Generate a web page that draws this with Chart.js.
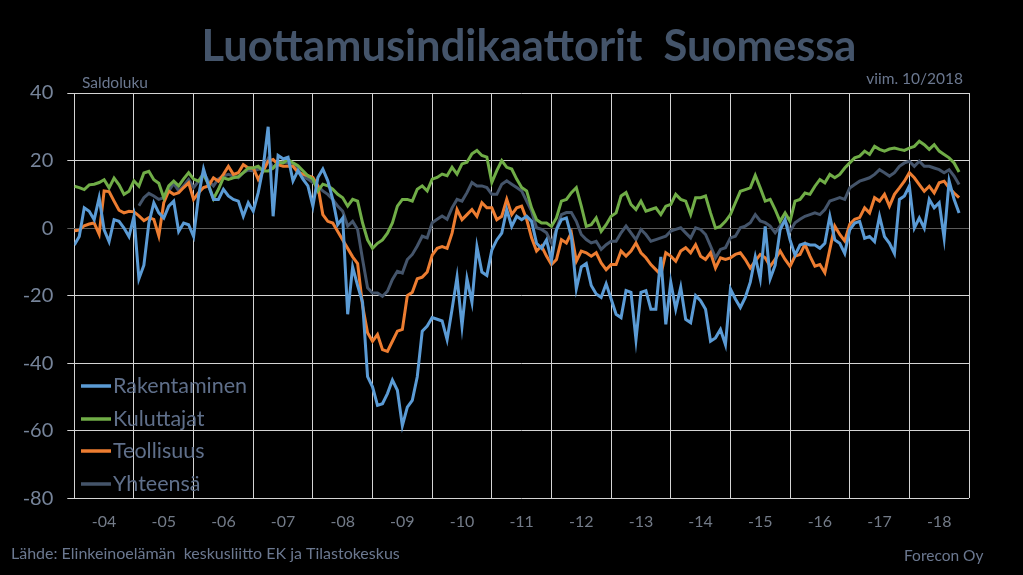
<!DOCTYPE html>
<html>
<head>
<meta charset="utf-8">
<script src="https://cdn.jsdelivr.net/npm/chart.js@4.4.1/dist/chart.umd.min.js"></script>
<style>
html,body{margin:0;padding:0;background:#000;}
#wrap{width:1023px;height:575px;}
</style>
</head>
<body>
<div id="wrap"><canvas id="c" width="1023" height="575"></canvas></div>
<script>
// Tick labels (years) and y-axis settings
const yearLabels = ['-04','-05','-06','-07','-08','-09','-10','-11','-12','-13','-14','-15','-16','-17','-18'];
const yTicks = [40, 20, 0, -20, -40, -60, -80];

const seriesNames = ['Rakentaminen', 'Kuluttajat', 'Teollisuus', 'Yhteensä'];

// Monthly values, Jan 2004 .. Oct 2018
const rakentaminen = [
  -5, -2.5, 6, 5, 2.5, 9, -0.5, -4, 2.5, 2, 0, -2.5,
  3.5, -15, -11, 1.5, 7.5, 4.5, 3, 6.5, 8, -1, 1.5, 1,
  -2.5, 9.5, 17.5, 12.5, 8.5, 8.5, 11.5, 9.5, 8.5, 8, 3.5, 7.5,
  5, 10.5, 18, 30, 3.5, 21.5, 20.5, 21, 14, 17, 14.5, 12.5,
  6.5, 15, 17.5, 14, 8.5, 1, 3, -25.5, -11.5, -17, -22, -44,
  -47, -52.5, -52, -49, -45, -48, -58.5, -53, -51, -44, -30.5, -29,
  -26.5, -27, -27.5, -33, -24, -14.5, -29, -15, -22, -5.5, -13, -14,
  -6.5, -3.5, -1.5, 5.5, 0.5, 3.5, 2.5, 3.5, 2, -4.5, -6, -3.5,
  -9.5, -0.5, 2.5, 3, -2.5, -18, -11.5, -10.5, -17, -19.5, -20.5, -16.5,
  -21, -25.5, -26.5, -18.5, -19, -33, -19, -18.5, -24, -24, -8.5, -28.5,
  -16, -24, -17.5, -27, -28, -20, -21.5, -24, -33.5, -32.5, -30, -34.5,
  -18, -21, -23.5, -20.5, -16, -8.5, -15, 0.5, -15, -11, -0.5, 2.5,
  -3.5, -8, -5, -4.5, -5, -5, -6, -4.5, 3.5, -3.5, -4.5, -7.5,
  -0.5, 1.5, 2, -3, -2.5, -4, 3.5, -2.5, -4.5, -7.5, 8.5, 9.5,
  12.5, 0, 3, 0, 8.5, 6, 7.5, -3, 14, 8.5, 4.5
];
const kuluttajat = [
  12.4, 12, 11.4, 12.8, 13, 13.5, 14.3, 11.9, 14.8, 12.8, 10, 10.9,
  14, 12.4, 16.3, 16.8, 14.3, 13.3, 9, 12.5, 13.9, 12.5, 14.6, 16.4,
  14.5, 13.9, 15.9, 12.9, 8.7, 11.5, 14.9, 14.4, 14.9, 15.2, 16.4, 17.8,
  17.8, 18.3, 16.9, 16.9, 17.8, 19.5, 19.3, 20.3, 19.3, 18.5, 17, 15.5,
  14.5, 11, 13, 12.5, 11.5, 10, 9, 6.5, 8.5, 8, 1.5, -3.5,
  -6, -4.5, -3.5, -1.5, 1.5, 6.5, 8.5, 8.5, 8, 11.5, 12.5, 11,
  14.5, 15, 16, 15.5, 18, 16, 19, 19.5, 22, 23, 21.5, 21,
  13.5, 17, 20, 18, 17.5, 14.5, 12, 11, 6, 2.5, 1.5, 1.5,
  0.5, 3, 8, 8.5, 10.5, 12, 6.5, 0.5, 1, 3, -1, 1,
  3.5, 4.5, 9.5, 10.5, 7, 5.5, 8, 5, 5.5, 6, 4, 6.5,
  7, 10, 8.5, 8, 4, 9, 9, 9.5, 4.5, 0, 0.5, 2,
  4, 7.5, 10.9, 11.4, 11.9, 15.6, 11.9, 8, 8.5, 5.5, 2, 4.5,
  2, 8, 8.5, 10.4, 10, 12.4, 14.4, 13.4, 15.9, 14.9, 15.9, 17.8,
  19.3, 20.8, 21.3, 22.8, 21.8, 24.2, 23.3, 22.8, 23.4, 23.7, 23.3, 23,
  23.7, 24.2, 25.7, 24.7, 23.3, 24.7, 22.8, 21.8, 20.8, 19.3, 16.6
];
const teollisuus = [
  -0.8, -0.6, 0.7, 1.2, 1.5, -1.8, 11, 10.8, 8, 5.3, 4.5, 5,
  4.8, 3.6, 2.2, 3.1, 2.6, -2.3, 7.5, 11, 10, 10.5, 12, 13.4,
  8.5, 10.5, 12, 12.5, 14.9, 13.9, 15.9, 18.3, 15.9, 16.4, 18.8, 17.8,
  17.8, 14.4, 16.9, 19.8, 20.3, 18.8, 18.3, 18.3, 18.3, 16.5, 16, 15.5,
  15, 12.5, 4, 2, 1.5, -1, -3.5, -6, -8.5, -10.5, -23, -31,
  -33.5, -31.5, -36, -36.5, -33.5, -30.5, -30, -20, -19, -15, -14.5, -13,
  -8, -6, -5.5, -6, -1.5, 5.5, 2.5, 4, 5.5, 3.5, 7.5, 6,
  6, 2.5, 3.5, 8.5, 4, 6, 6.5, 2.6, -2.9, -6.8, -5.3, -8.3,
  -10.8, -9.3, -3.4, -4.4, -1.4, -9.8, -6.8, -7.3, -8.3, -7.3, -10.3, -12.3,
  -10.8, -10.8, -6.8, -8.3, -6.8, -4.4, -7.3, -8.8, -10.8, -12.3, -13.8, -7.3,
  -8.3, -9.8, -6.8, -5.8, -7.3, -4.9, -8.3, -9.3, -7.3, -11.8, -8.8, -9.3,
  -8.8, -7.8, -7.3, -9.3, -11.8, -9.8, -7.8, -8.8, -11.3, -9.3, -6.8, -9.3,
  -11.3, -8.3, -7.8, -4.8, -8.3, -11.3, -10.8, -13.2, -6.3, 0.6, -1.9, -3.8,
  1.1, 2.6, 3.1, 6, 4.5, 9, 8, 10, 6.5, 10, 11.9, 13.9,
  16.4, 14.9, 12.9, 10.9, 12.4, 10.4, 13.4, 13.9, 11.9, 10.4, 9
];
const yhteensa = [
  null, null, null, null, null, null, null, null, null, null, null, null,
  null, 6.6, 9, 10.3, 9.5, 8.5, 9, 11, 13.2, 11, 12.5, 14.4,
  12, 13.9, 16.4, 13.9, 12.5, 14.6, 15.4, 15.9, 15.4, 14.9, 16.4, 17.2,
  16.9, 17.4, 17.5, 20.5, 17.8, 19.3, 19.5, 19.3, 19.1, 17.4, 15.4, 14.5,
  13.5, 12.5, 11, 10, 8.5, 6.5, 5, 0.6, 2, -0.4, -9.3, -17.7,
  -19.2, -19.2, -20.2, -18.7, -15.2, -12.8, -13.3, -9.3, -7.8, -5.3, -2.4, -2.9,
  1.6, 2.6, 3.6, 2.6, 6, 8.5, 8, 10.5, 13.5, 12.5, 12.5, 12,
  10, 10, 13, 14, 13, 12, 11, 8, 5, 0.1, -0.4, -1.4,
  -4.4, -0.4, 4, 4.6, 4.6, 2, -1.9, -3.4, -4.4, -3.9, -6.3, -4.9,
  -3.9, -3.9, -1.4, 0.6, -1.4, -3.4, -0.4, -1.9, -3.9, -3.4, -2.9, -2.4,
  -0.9, -0.4, 0.1, -1.4, -2.9, 0.1, -0.4, -1.9, -5.3, -8.8, -6.3, -5.8,
  -2.9, -2.4, 0.1, 0.6, 1.6, 4, 2.1, 1.6, 0.6, -1.4, 0.6, 2.1,
  -0.9, 1.6, 2.6, 3.5, 4, 4.5, 4, 5.5, 8, 8.5, 9, 8.5,
  11.9, 12.9, 13.9, 14.4, 14.9, 15.9, 17.3, 16.4, 15.4, 16.4, 18.3, 19.3,
  19.8, 18.3, 19.8, 18.3, 18.3, 17.8, 17.3, 16.4, 17.3, 15.4, 12.9
];

const seriesValues = [rakentaminen, kuluttajat, teollisuus, yhteensa];
const seriesColors = ['#5B9BD5', '#70AD47', '#ED7D31', '#44546A'];

const toPoints = arr => arr.map((v, i) => ({ x: i, y: v }));

const decor = {
  id: 'decor',
  afterDraw(chart) {
    const ctx = chart.ctx;
    ctx.save();
    // Title
    ctx.fillStyle = '#44546A';
    ctx.font = 'bold 43.5px Lato';
    ctx.textAlign = 'center';
    ctx.textBaseline = 'alphabetic';
    ctx.fillText('Luottamusindikaattorit  Suomessa', 529, 61);
    // small texts
    ctx.fillStyle = '#6B7890';
    ctx.font = '15.5px Lato';
    ctx.textBaseline = 'middle';
    ctx.textAlign = 'left';
    ctx.fillText('Saldoluku', 82, 83);
    ctx.textAlign = 'right';
    ctx.fillText('viim. 10/2018', 963, 79);
    ctx.textAlign = 'left';
    ctx.font = '16px Lato';
    ctx.fillText('Lähde: Elinkeinoelämän  keskusliitto EK ja Tilastokeskus', 11, 554);
    ctx.font = '15.5px Lato';
    ctx.fillText('Forecon Oy', 904, 556);
    // Legend
    const rows = [386, 419, 451, 484];
    chart.data.datasets.forEach((ds, k) => {
      const y = rows[k];
      ctx.strokeStyle = ds.borderColor;
      ctx.lineWidth = 3.5;
      ctx.beginPath();
      ctx.moveTo(81, y);
      ctx.lineTo(111, y);
      ctx.stroke();
      ctx.fillStyle = '#5F6F8A';
      ctx.font = '21.5px Lato';
      ctx.textAlign = 'left';
      ctx.textBaseline = 'middle';
      ctx.fillText(ds.label, 113, y);
    });
    ctx.restore();
  }
};

new Chart(document.getElementById('c'), {
  type: 'line',
  data: {
    datasets: seriesNames.map((name, k) => ({
      label: name,
      data: toPoints(seriesValues[k]),
      borderColor: seriesColors[k],
      backgroundColor: seriesColors[k],
      borderWidth: 3,
      pointRadius: 0,
      tension: 0,
      fill: false,
      spanGaps: false
    }))
  },
  options: {
    responsive: false,
    animation: false,
    layout: { padding: { left: 0, right: 54, top: 93, bottom: 0 } },
    plugins: { legend: { display: false }, tooltip: { enabled: false }, title: { display: false } },
    scales: {
      x: {
        type: 'linear',
        min: 0,
        max: 180,
        afterBuildTicks: ax => {
          const t = [];
          for (let v = 0; v <= 180; v += 6) t.push({ value: v });
          ax.ticks = t;
        },
        afterFit: ax => { ax.height = 76.7; },
        border: { display: false },
        grid: {
          drawTicks: false,
          lineWidth: 1,
          color: c => (c.tick && c.tick.value % 12 === 0) ? '#D4D4D4' : 'rgba(0,0,0,0)'
        },
        ticks: {
          autoSkip: false,
          maxRotation: 0,
          minRotation: 0,
          padding: 14,
          color: '#737B88',
          font: { family: 'Lato', size: 16 },
          callback: v => (v % 12 === 6) ? yearLabels[(v - 6) / 12] : ''
        }
      },
      y: {
        min: -80,
        max: 40,
        afterBuildTicks: ax => { ax.ticks = yTicks.map(v => ({ value: v })); },
        afterFit: ax => { ax.width = 74.3; },
        border: { display: false },
        grid: {
          lineWidth: 1,
          tickLength: 7,
          color: c => (c.tick && c.tick.value === 0) ? '#5A5A5A' : '#D4D4D4'
        },
        ticks: {
          padding: 14,
          color: '#76849A',
          font: { family: 'Lato', size: 20 }
        }
      }
    }
  },
  plugins: [decor]
});
</script>
</body>
</html>
